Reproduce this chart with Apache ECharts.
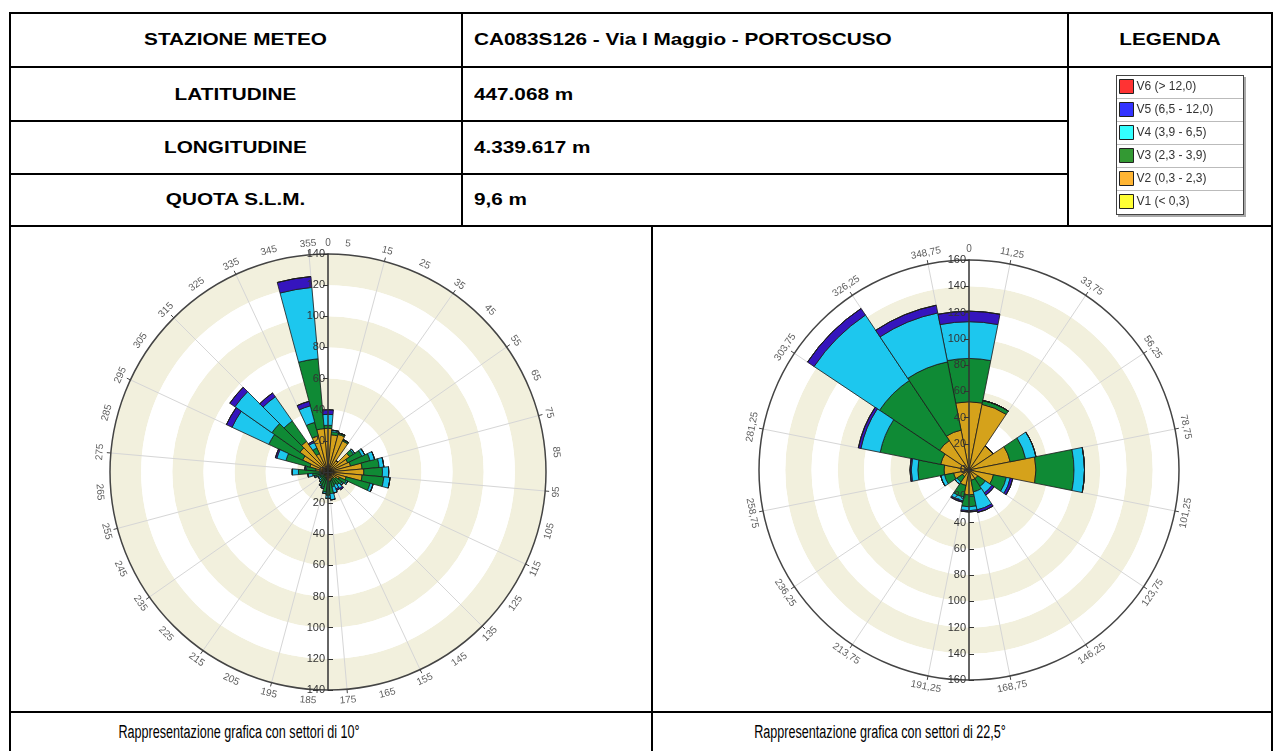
<!DOCTYPE html>
<html>
<head>
<meta charset="utf-8">
<script src="https://cdn.jsdelivr.net/npm/echarts@6.0.0/dist/echarts.min.js"></script>
<style>
  body { margin: 0; background: #fff; font-family: "Liberation Sans", Arial, sans-serif; }
  #page { position: relative; width: 1282px; height: 751px; overflow: hidden; }
  .ln { position: absolute; background: #000; }
  .tx { position: absolute; white-space: nowrap; color: #000; }
  .b { font-weight: bold; font-size: 17px; line-height: 20px; transform: scaleX(1.22); }
  .c { text-align: center; transform-origin: center center; }
  .l { transform-origin: left center; }
  .cap { font-size: 18px; line-height: 20px; transform: scaleX(0.7); transform-origin: center center; text-align: center; }
  #legbox { position: absolute; left: 1116px; top: 75px; width: 126px; height: 138px;
            border: 1px solid #444; box-shadow: 2px 2px 0 #aaa; background: #fff; }
  #legbox div { height: 22px; border-bottom: 1px solid #bbb; }
  #chart { position: absolute; left: 0; top: 0; width: 1282px; height: 751px; }
</style>
</head>
<body>
<div id="page">
  <!-- table lines -->
  <div class="ln" style="left:9px;top:12px;width:1264px;height:2px"></div>
  <div class="ln" style="left:9px;top:66px;width:1264px;height:2px"></div>
  <div class="ln" style="left:9px;top:120px;width:1060px;height:2px"></div>
  <div class="ln" style="left:9px;top:173px;width:1060px;height:2px"></div>
  <div class="ln" style="left:9px;top:225px;width:1264px;height:2px"></div>
  <div class="ln" style="left:9px;top:711px;width:1264px;height:2px"></div>
  <div class="ln" style="left:9px;top:12px;width:2px;height:739px"></div>
  <div class="ln" style="left:1271px;top:12px;width:2px;height:739px"></div>
  <div class="ln" style="left:461px;top:12px;width:2px;height:214px"></div>
  <div class="ln" style="left:1067px;top:12px;width:2px;height:214px"></div>
  <div class="ln" style="left:651px;top:225px;width:2px;height:526px"></div>

  <div class="tx b c" style="left:9px;width:453px;top:30px">STAZIONE METEO</div>
  <div class="tx b c" style="left:9px;width:453px;top:85px">LATITUDINE</div>
  <div class="tx b c" style="left:9px;width:453px;top:138px">LONGITUDINE</div>
  <div class="tx b c" style="left:9px;width:453px;top:190px">QUOTA S.L.M.</div>
  <div class="tx b l" style="left:474px;top:30px">CA083S126 - Via I Maggio - PORTOSCUSO</div>
  <div class="tx b l" style="left:474px;top:85px">447.068 m</div>
  <div class="tx b l" style="left:474px;top:138px">4.339.617 m</div>
  <div class="tx b l" style="left:474px;top:190px">9,6 m</div>
  <div class="tx b c" style="left:1068px;width:204px;top:30px">LEGENDA</div>

  <div id="legbox"><div></div><div></div><div></div><div></div><div></div><div style="border:none"></div></div>

  <div class="tx cap" style="left:39px;width:400px;top:722px">Rappresentazione grafica con settori di 10°</div>
  <div class="tx cap" style="left:680px;width:400px;top:722px">Rappresentazione grafica con settori di 22,5°</div>

  <div id="chart"></div>
</div>
<script>
// classes of wind speed (legend order from top: V6 .. V1)
var classNames = ['V1 (< 0,3)', 'V2 (0,3 - 2,3)', 'V3 (2,3 - 3,9)', 'V4 (3,9 - 6,5)', 'V5 (6,5 - 12,0)', 'V6 (> 12,0)'];
var barColors = ['#FFFF33', '#D5A21B', '#0F8A35', '#1DC7EE', '#3515BE', '#E52222'];
var legendColors = ['#FFFF33', '#FFB533', '#339933', '#33FFFF', '#3333FF', '#FF3333'];

// 10 degree sectors (centre of sector)
var sectors10 = ['0','10','20','30','40','50','60','70','80','90','100','110','120','130','140','150','160','170',
                 '180','190','200','210','220','230','240','250','260','270','280','290','300','310','320','330','340','350'];
var angleTicks10 = ['0','5','15','25','35','45','55','65','75','85','95','105','115','125','135','145','155','165','175',
                    '185','195','205','215','225','235','245','255','265','275','285','295','305','315','325','335','345','355'];
var v1_10 = [0,0,0,0,0,0,0,0,0,0,0,0,0,0,0,0,0,0,0,0,0,0,0,0,0,0,0,0,0,0,0,0,0,0,0,0];
var v2_10 = [28,24,25,22,9,17,14,15,22,23,22,12,8,6,5,5,6,6,6,5,4,4,3,3,3,4,4,5,8,12,18,22,24,13,24,28];
var v3_10 = [2,2,1,1,0,3,10,13,11,12,14,16,5,5,5,4,4,8,9,8,6,5,4,3,3,4,6,14,6,16,24,22,16,4,9,45];
var v4_10 = [7,1,0,0,0,1,2,3,3,4,4,2,1,1,3,3,4,4,2,1,1,1,1,1,1,1,3,4,1,6,26,29,19,4,11,46];
var v5_10 = [3,0,0,0,0,0,0,0,0,0,0,0,0,0,1,1,0,0,0,0,0,0,0,0,0,0,0,0,0,1,4,4,3,1,3,7];
var v6_10 = [0,0,0,0,0,0,0,0,0,0,0,0,0,0,0,0,0,0,0,0,0,0,0,0,0,0,0,0,0,0,0,0,0,0,0,0];

// 22,5 degree sectors
var sectors22 = ['0','22,5','45','67,5','90','112,5','135','157,5','180','202,5','225','247,5','270','292,5','315','337,5'];
var angleTicks22 = ['0','11,25','33,75','56,25','78,75','101,25','123,75','146,25','168,75','191,25','213,75','236,25',
                    '258,75','281,25','303,75','326,25','348,75'];
var v1_22 = [0,0,0,0,0,0,0,0,0,0,0,0,0,0,0,0];
var v2_22 = [52,51,22,32,51,19,8,8,19,12,6,12,19,22,27,31];
var v3_22 = [33,3,0,12,29,10,7,9,9,9,5,7,20,47,55,53];
var v4_22 = [28,0,0,8,8,3,6,14,3,3,2,3,5,15,60,38];
var v5_22 = [8,0,0,0,0,2,2,2,1,1,0,0,1,2,6,6];
var v6_22 = [0,0,0,0,0,0,0,0,0,0,0,0,0,0,0,0];

var data10 = [v1_10, v2_10, v3_10, v4_10, v5_10, v6_10];
var data22 = [v1_22, v2_22, v3_22, v4_22, v5_22, v6_22];

var roseL = { cx: 328, cy: 472, r: 218, max: 140, step: 10, zero: false };
var roseR = { cx: 969, cy: 470, r: 210, max: 160, step: 22.5, zero: true };

function labelRotate(a) {
    if (a <= 90) return -a;
    if (a >= 270) return 360 - a;
    return 180 - a;
}

var option = {
    animation: false,
    textStyle: { fontFamily: 'Liberation Sans, Arial, sans-serif' },
    legend: {
        orient: 'vertical',
        left: 1119, top: 79, padding: 0,
        itemWidth: 14, itemHeight: 14, itemGap: 8,
        icon: 'rect',
        selectedMode: false,
        textStyle: { fontSize: 12, color: '#333', padding: [0, 0, 0, -2] },
        data: classNames.slice().reverse().map(function (n) {
            var i = classNames.indexOf(n);
            return { name: n, itemStyle: { color: legendColors[i], borderColor: '#222', borderWidth: 1 } };
        })
    },
    polar: [], angleAxis: [], radiusAxis: [], series: []
};

function addRose(rose, sectors, ticks, data, stackName) {
    var p0 = option.polar.length;
    for (var k = 0; k < 4; k++) {
        option.polar.push({ center: [rose.cx, rose.cy], radius: [0, k === 3 ? rose.r + 11 : rose.r] });
    }
    // bars / rings / spokes
    option.angleAxis.push({
        polarIndex: p0, type: 'category', data: sectors, startAngle: 90 + rose.step / 2, clockwise: true,
        boundaryGap: true, z: 1,
        axisLine: { lineStyle: { color: '#444', width: 1.5 } },
        axisTick: { show: true, length: 4, lineStyle: { color: '#444' } },
        axisLabel: { show: false },
        splitLine: { show: true, lineStyle: { color: '#d6d6d6', width: 1 } }
    });
    option.radiusAxis.push({
        polarIndex: p0, min: 0, max: rose.max, interval: 20, z: 0,
        axisLine: { show: false }, axisTick: { show: false }, axisLabel: { show: false },
        splitLine: { show: false },
        splitArea: { show: true, areaStyle: { color: ['#F2F0DD', '#FFFFFF'] } }
    });
    // radial axis up and down, labels on the left of the line
    [90, 270].forEach(function (sa, j) {
        option.angleAxis.push({ polarIndex: p0 + 1 + j, type: 'value', min: 0, max: 360, startAngle: sa, show: false });
        option.radiusAxis.push({
            polarIndex: p0 + 1 + j, min: 0, max: rose.max, interval: 20, z: 10,
            showMinLabel: j === 0 && rose.zero,
            axisLine: { lineStyle: { color: '#333', width: 1.5 } },
            axisTick: { show: true, inside: j === 0, length: 5, lineStyle: { color: '#333' } },
            axisLabel: j === 0 ? { color: '#333', fontSize: 11, margin: 3 }
                               : { color: '#333', fontSize: 11, margin: -3, align: 'right' },
            splitLine: { show: false }
        });
    });
    // ring of direction labels
    option.angleAxis.push({ polarIndex: p0 + 3, type: 'value', min: 0, max: 360, startAngle: 90, clockwise: true, show: false });
    option.radiusAxis.push({ polarIndex: p0 + 3, min: 0, max: 1, show: false });

    data.forEach(function (vals, i) {
        option.series.push({
            type: 'bar', coordinateSystem: 'polar', polarIndex: p0, name: classNames[i], stack: stackName,
            data: vals, barCategoryGap: '0%', z: 3, silent: true,
            itemStyle: { color: barColors[i], borderColor: '#1a1a1a', borderWidth: 0.8 }
        });
    });
    option.series.push({
        type: 'scatter', coordinateSystem: 'polar', polarIndex: p0 + 3, symbolSize: 1, silent: true,
        itemStyle: { color: 'rgba(0,0,0,0)' },
        data: ticks.map(function (t) {
            var a = parseFloat(t.replace(',', '.'));
            return { name: t, value: [1, a], label: { rotate: labelRotate(a) } };
        }),
        label: { show: true, position: 'inside', formatter: '{b}', color: '#333', fontSize: 10 }
    });
}

addRose(roseL, sectors10, angleTicks10, data10, 'L');
addRose(roseR, sectors22, angleTicks22, data22, 'R');

var chart = echarts.init(document.getElementById('chart'));
chart.setOption(option);
</script>
</body>
</html>
